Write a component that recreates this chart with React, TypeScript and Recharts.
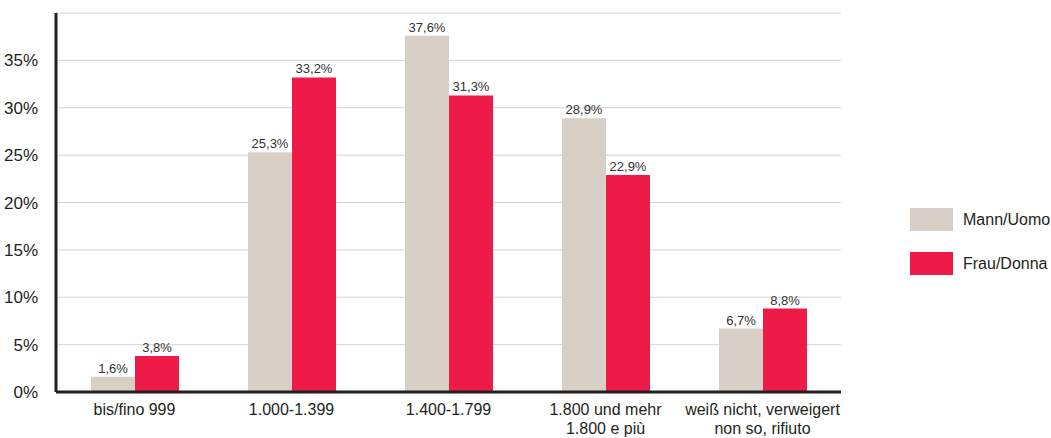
import { BarChart, Bar, XAxis, YAxis, CartesianGrid, LabelList } from 'recharts';

const categories = ['bis/fino 999', '1.000-1.399', '1.400-1.799', '1.800 und mehr\n1.800 e più', 'weiß nicht, verweigert\nnon so, rifiuto'];
const mann = [1.6, 25.3, 37.6, 28.9, 6.7];
const frau = [3.8, 33.2, 31.3, 22.9, 8.8];
const yTicks = [0, 5, 10, 15, 20, 25, 30, 35];

const data = categories.map((c, i) => ({ name: c, mann: mann[i], frau: frau[i] }));

const FONT = '"Liberation Sans", Arial, sans-serif';
const BEIGE = '#d8cfc6';
const RED = '#ee1a47';
const INK = '#231f20';

const fmt = (v: any) => `${String(v).replace('.', ',')}%`;

const CategoryTick = ({ x, y, payload }: any) => {
  const lines = String(payload.value).split('\n');
  return (
    <text x={x} y={y} textAnchor="middle" fill={INK} fontFamily={FONT} fontSize={16}>
      {lines.map((l, i) => (
        <tspan key={i} x={x} dy={i === 0 ? 15 : 19}>{l}</tspan>
      ))}
    </text>
  );
};

const legendItems = [{ c: BEIGE, t: 'Mann/Uomo' }, { c: RED, t: 'Frau/Donna' }];

export default function App() {
  return (
    <div style={{ position: 'absolute', left: 0, top: 0, width: 1051, height: 438, background: '#fff', overflow: 'hidden' }}>
      <BarChart width={1051} height={438} data={data} margin={{ top: 13, right: 210, left: 0, bottom: 0 }} barGap={0} barSize={44}>
        <CartesianGrid horizontal vertical={false} stroke="#d4d4d4" />
        <XAxis
          dataKey="name"
          interval={0}
          tickLine={false}
          axisLine={{ stroke: INK, strokeWidth: 3 }}
          tick={<CategoryTick />}
          height={46}
        />
        <YAxis
          width={56}
          domain={[0, 40]}
          ticks={yTicks}
          tickFormatter={(v) => `${v}%`}
          tickLine={false}
          axisLine={{ stroke: INK, strokeWidth: 3 }}
          tickMargin={12}
          tick={{ fill: INK, fontSize: 17, fontFamily: FONT }}
        />
        <Bar dataKey="mann" name="Mann/Uomo" fill={BEIGE} isAnimationActive={false}>
          <LabelList dataKey="mann" position="top" offset={4} formatter={fmt} fill="#333" fontSize={13} fontFamily={FONT} />
        </Bar>
        <Bar dataKey="frau" name="Frau/Donna" fill={RED} isAnimationActive={false}>
          <LabelList dataKey="frau" position="top" offset={4} formatter={fmt} fill="#333" fontSize={13} fontFamily={FONT} />
        </Bar>
      </BarChart>
      <div style={{ position: 'absolute', left: 910, top: 208, fontFamily: FONT, fontSize: 16, color: INK }}>
        {legendItems.map((e) => (
          <div key={e.t} style={{ display: 'flex', alignItems: 'center', height: 23, marginBottom: 21, whiteSpace: 'nowrap' }}>
            <span style={{ width: 43, height: 23, background: e.c, display: 'inline-block', marginRight: 10 }} />
            <span>{e.t}</span>
          </div>
        ))}
      </div>
    </div>
  );
}
